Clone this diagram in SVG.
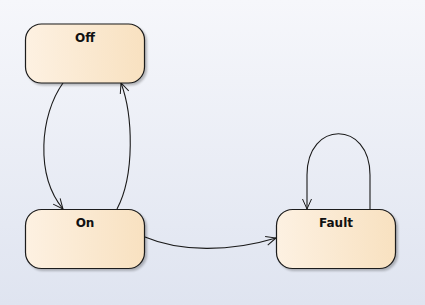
<svg xmlns="http://www.w3.org/2000/svg" width="425" height="305" viewBox="0 0 425 305">
  <defs>
    <linearGradient id="bg" x1="0" y1="0" x2="0" y2="1">
      <stop offset="0" stop-color="#f6f7fb"/>
      <stop offset="1" stop-color="#dfe4f0"/>
    </linearGradient>
    <linearGradient id="stateFill" x1="0" y1="0" x2="1" y2="0">
      <stop offset="0" stop-color="#fdf1e2"/>
      <stop offset="1" stop-color="#f8e1c0"/>
    </linearGradient>
    <filter id="shadow" x="-10%" y="-10%" width="130%" height="130%">
      <feGaussianBlur in="SourceAlpha" stdDeviation="1.2"/>
      <feOffset dx="2" dy="2"/>
      <feComponentTransfer><feFuncA type="linear" slope="0.25"/></feComponentTransfer>
      <feMerge><feMergeNode/><feMergeNode in="SourceGraphic"/></feMerge>
    </filter>
    <marker id="open" viewBox="0 0 12 12" refX="11" refY="6" markerWidth="12" markerHeight="12" markerUnits="userSpaceOnUse" orient="auto">
      <path d="M1,1.5 L11,6 L1,10.5" fill="none" stroke="#1a1a1a" stroke-width="1"/>
    </marker>
    <style>
      .state { fill: url(#stateFill); stroke: #1a1a1a; stroke-width: 1.2; filter: url(#shadow); }
      .label { font-family: "DejaVu Sans", "Liberation Sans", sans-serif; font-weight: bold; font-size: 12px; fill: #111; text-anchor: middle; }
      .edge { fill: none; stroke: #1a1a1a; stroke-width: 1.1; marker-end: url(#open); }
    </style>
  </defs>

  <rect width="425" height="305" fill="url(#bg)"/>

  <g id="connectors">
    <path class="edge" d="M63,83 C40,115 35,175 63,209"/>
    <path class="edge" d="M117,209 C135,175 133,115 121,83"/>
    <path class="edge" d="M145,237 C180,252 230,252 276,238"/>
    <path class="edge" d="M370,209 L370,175 C370,120 307,120 307,175 L307,209"/>
  </g>

  <g id="Off">
    <rect class="state" x="25.5" y="24" width="119" height="59" rx="16" ry="16"/>
    <text class="label" x="85" y="42">Off</text>
  </g>

  <g id="On">
    <rect class="state" x="25.5" y="209.5" width="119" height="59" rx="16" ry="16"/>
    <text class="label" x="85" y="227">On</text>
  </g>

  <g id="Fault">
    <rect class="state" x="276.5" y="209.5" width="119" height="59" rx="16" ry="16"/>
    <text class="label" x="336" y="227">Fault</text>
  </g>
</svg>
